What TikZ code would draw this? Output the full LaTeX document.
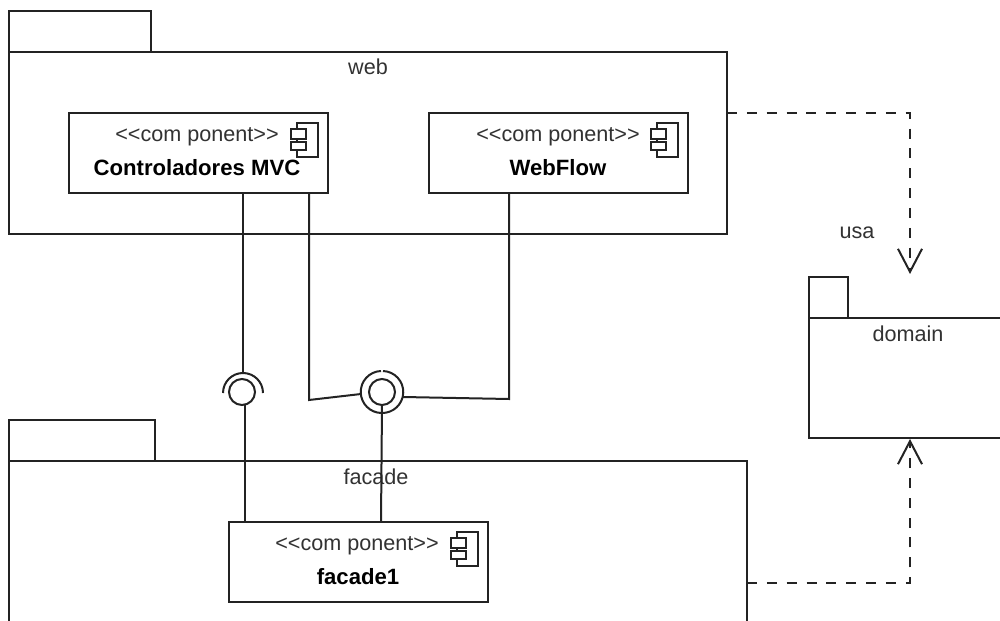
\documentclass[tikz,border=0pt]{standalone}
\usepackage{fontspec}
\setmainfont{Liberation Sans}
\usetikzlibrary{arrows.meta, positioning}
\definecolor{UMLLine}{RGB}{35,35,35}
\definecolor{UMLText}{RGB}{50,50,50}

\begin{document}
\begin{tikzpicture}[
    x=0.02cm, y=-0.02cm,
    every node/.style={inner sep=0pt, outer sep=0pt},
    box/.style={rectangle, draw=UMLLine, line width=0.4mm, anchor=north west},
    component/.style={box, minimum width=5.18cm, minimum height=1.6cm},
    label/.style={text=UMLText, font=\fontsize{12.3}{14}\selectfont},
    title/.style={text=black, font=\fontsize{12.6}{15}\selectfont\bfseries},
    wire/.style={draw=UMLLine, line width=0.4mm},
    ring/.style={circle, draw=UMLLine, line width=0.4mm, minimum size=0.52cm},
    depends/.style={wire, dash pattern=on 5.7pt off 5.6pt, -{Straight Barb[length=4.6mm, width=4.8mm]}},
    compicon/.pic={
        \draw[line width=0.25mm, draw=UMLLine] (-31,10) rectangle (-10,44);
        \draw[line width=0.25mm, draw=UMLLine, fill=white] (-37,16) rectangle (-22,26);
        \draw[line width=0.25mm, draw=UMLLine, fill=white] (-37,29) rectangle (-22,37);
    }
]
\clip (0,0) rectangle (1000,621);
\fill[white] (0,0) rectangle (1000,621);

% web package
\node[box, minimum width=2.84cm, minimum height=0.82cm] (webtab) at (9,11) {};
\node[box, minimum width=14.36cm, minimum height=3.64cm] (web) at (9,52) {};
\node[label] at (368,67) {web};

% facade package
\node[box, minimum width=2.92cm, minimum height=0.82cm] (facadetab) at (9,420) {};
\node[box, minimum width=14.76cm, minimum height=4cm] (facade) at (9,461) {};
\node[label] at (376,477) {facade};

% domain package
\node[box, minimum width=0.78cm, minimum height=0.82cm] (domaintab) at (809,277) {};
\node[box, minimum width=4cm, minimum height=2.4cm] (domain) at (809,318) {};
\node[label] at (908,334) {domain};
\node[label] at (857,233) {usa};

% components
\node[component] (mvc) at (69,113) {};
\node[label] at (197,137) {<{}<com ponent>{}>};
\node[title] at (197,168) {Controladores MVC};
\pic at (mvc.north east) {compicon};

\node[component] (webflow) at (429,113) {};
\node[label] at (558,137) {<{}<com ponent>{}>};
\node[title] at (558,168) {WebFlow};
\pic at (webflow.north east) {compicon};

\node[component] (facade1) at (229,522) {};
\node[label] at (357,546) {<{}<com ponent>{}>};
\node[title] at (358,577) {facade1};
\pic at (facade1.north east) {compicon};

% interfaces
\node[ring] (iface1) at (242,392) {};
\node[ring] (iface2) at (382,392) {};
\coordinate (socket1) at (243,372);
\coordinate (socket2left) at (361,394);
\coordinate (socket2right) at (403,397);
\draw[wire] (263,393) arc[start angle=0, end angle=-180, radius=20];
\draw[wire] (383,371) arc[start angle=-88, end angle=92, radius=21];
\draw[wire] (381,371) arc[start angle=-92, end angle=-268, radius=21];

\coordinate (mvcleft) at (243,193);
\coordinate (mvcright) at (309,193);
\coordinate (kneeleft) at (309,400);
\coordinate (flowdown) at (509,193);
\coordinate (kneeright) at (509,399);
\coordinate (iface1low) at (245,405);
\coordinate (faceleft) at (245,522);
\coordinate (faceright) at (381,522);

\draw[wire] (mvcleft) -- (socket1);
\draw[wire] (iface1low) -- (faceleft);
\draw[wire] (mvcright) -- (kneeleft) -- (socket2left);
\draw[wire] (flowdown) -- (kneeright) -- (socket2right);
\draw[wire] (iface2.south) -- (faceright);

% dependencies
\coordinate (webout) at (727,113);
\coordinate (webcorner) at (910,113);
\coordinate (webin) at (910,274);
\coordinate (facadeout) at (747,583);
\coordinate (facadecorner) at (910,583);
\coordinate (domainin) at (910,439);
\draw[depends] (webout) -- (webcorner) -- (webin);
\draw[depends] (facadeout) -- (facadecorner) -- (domainin);
\end{tikzpicture}
\end{document}
